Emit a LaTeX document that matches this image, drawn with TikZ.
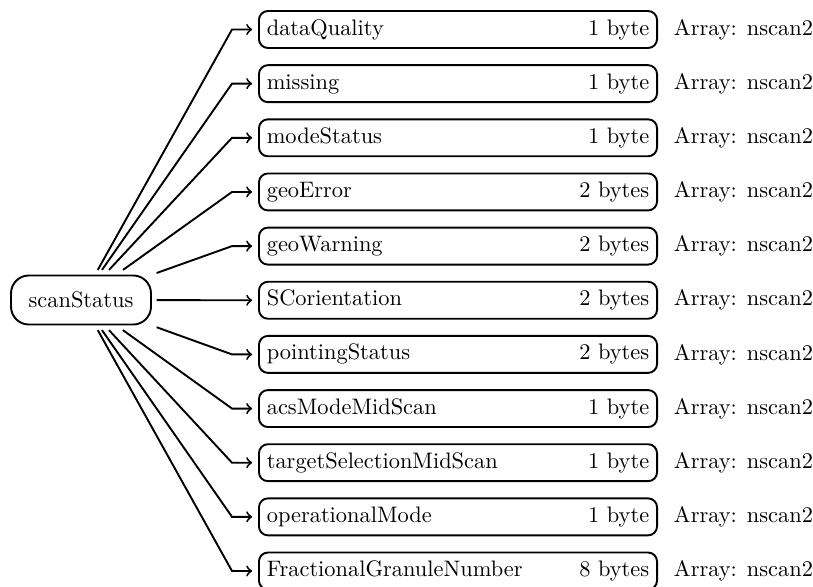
\documentclass[tikz,border=0pt]{standalone}
\usetikzlibrary{arrows}
\begin{document}
\begin{tikzpicture}[x=0.4464pt,y=-0.4464pt,
  line width=0.85pt,
  rootbox/.style={draw, rounded corners=8pt, minimum width=62.5pt,
    minimum height=21.9pt, outer sep=2.5pt, inner sep=0pt},
  fieldbox/.style={draw, rounded corners=4pt, minimum height=16.5pt,
    text width=170.7pt, inner xsep=3.5pt, inner ysep=0pt, outer sep=3pt},
  arraylabel/.style={anchor=west, inner sep=0pt},
  link/.style={->, line join=miter}]
\useasboundingbox (0,0) rectangle (813,586);

\node[rootbox] (root) at (81,300) {scanStatus};

\foreach \name/\size [count=\i from 0] in {
    dataQuality/1 byte,
    missing/1 byte,
    modeStatus/1 byte,
    geoError/2 bytes,
    geoWarning/2 bytes,
    SCorientation/2 bytes,
    pointingStatus/2 bytes,
    acsModeMidScan/1 byte,
    targetSelectionMidScan/1 byte,
    operationalMode/1 byte,
    FractionalGranuleNumber/8 bytes} {
  \pgfmathsetmacro{\rowy}{29.5+54.15*\i}
  \node[fieldbox] (f\i) at (458,\rowy) {\name\hfill\size};
  \node[arraylabel] (a\i) at (673,\rowy) {Array: nscan2};
  \coordinate (k\i) at (232,\rowy);
  \draw[link] (root) -- (k\i) -- (f\i.west);
}
\end{tikzpicture}
\end{document}
